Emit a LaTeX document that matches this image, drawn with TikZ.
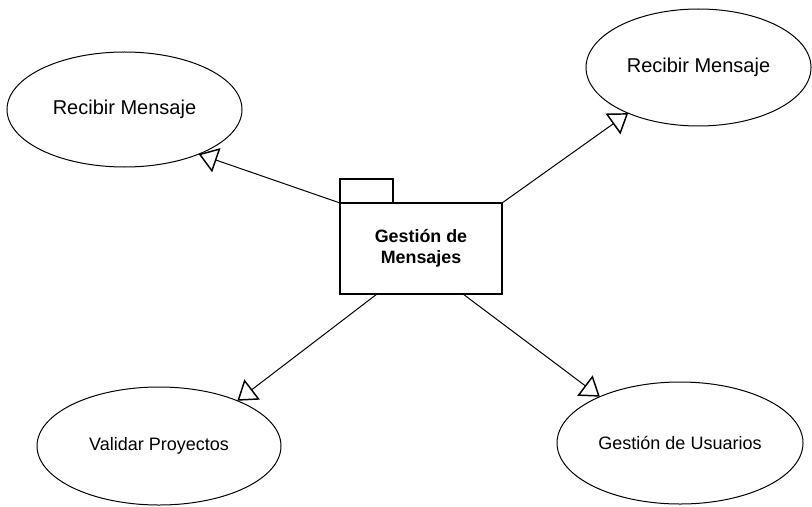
\documentclass[tikz,border=0pt]{standalone}
\usepackage{fontspec}
\setmainfont{Liberation Sans}
\usetikzlibrary{shapes.geometric,arrows.meta}

\begin{document}
\begin{tikzpicture}[x=0.75pt,y=-0.75pt,
  usecase/.style={draw, ellipse, line width=0.75pt, inner sep=0pt, outer sep=0pt,
    font=\fontsize{13.5}{16}\selectfont},
  pkgbox/.style={draw, rectangle, line width=1.1pt, inner sep=0pt, outer sep=0pt,
    minimum width=121.5pt, minimum height=68.25pt, align=center,
    font=\fontsize{13.4}{15.8}\selectfont\bfseries},
  dep/.style={line width=0.75pt,
    -{Triangle[open, length=14pt, width=19pt, line width=1.1pt]}}
]
  % canvas
  \fill[white] (0,0) rectangle (812,506);
  \useasboundingbox (0,0) rectangle (812,506);

  % package with its tab
  \node[pkgbox] (pkg) at (421,248.5) {Gesti\'on de\\Mensajes};
  \draw[line width=1.1pt] (pkg.north west) rectangle ++(53,-24);

  % use cases
  \node[usecase, minimum width=176.25pt, minimum height=86.25pt,
        font=\fontsize{15}{18}\selectfont] (e1) at (124.5,109.5) {Recibir Mensaje};
  \node[usecase, minimum width=168.75pt, minimum height=87.75pt,
        font=\fontsize{15}{18}\selectfont] (e2) at (698.5,67.5) {Recibir Mensaje};
  \node[usecase, minimum width=183pt, minimum height=88.5pt] (e3) at (159,446) {Validar Proyectos};
  \node[usecase, minimum width=184.5pt, minimum height=91.5pt] (e4) at (680,443) {Gesti\'on de Usuarios};

  % dependencies
  \draw[dep] (pkg.north west) -- (e1.-31);
  \draw[dep] (pkg.north east) -- (e2.213);
  \draw[dep] ([xshift=-33pt]pkg.south) -- (e3.30);
  \draw[dep] ([xshift=31.5pt]pkg.south) -- (e4.150);
\end{tikzpicture}
\end{document}
